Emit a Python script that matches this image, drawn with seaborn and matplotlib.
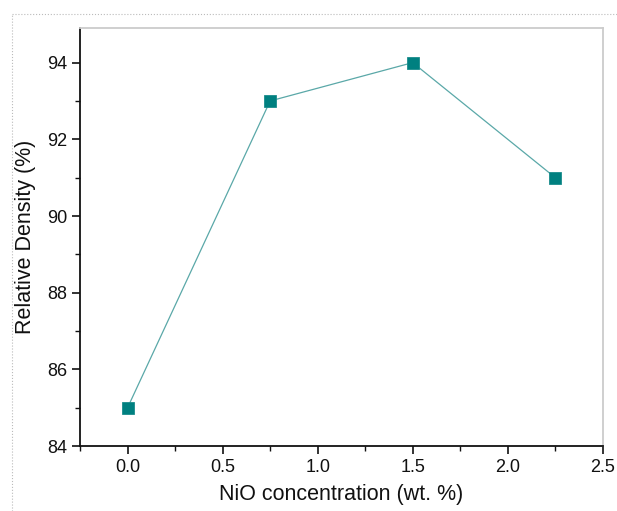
import matplotlib
matplotlib.use('Agg')
import pandas as pd
from matplotlib import pyplot as plt
from matplotlib.lines import Line2D
from matplotlib.ticker import MultipleLocator
import seaborn as sns

# values
nio = [0.0, 0.75, 1.5, 2.25]
density = [85, 93, 94, 91]
x_ticks = [0.0, 0.5, 1.0, 1.5, 2.0, 2.5]
y_ticks = [84, 86, 88, 90, 92, 94]

df = pd.DataFrame({'nio': nio, 'density': density})

sns.set_style('white')
plt.rcParams['font.family'] = ['Liberation Sans', 'DejaVu Sans']

fig = plt.figure(figsize=(6.17, 5.11), dpi=100)
ax = fig.add_axes([0.1297, 0.127, 0.8473, 0.818])

sns.lineplot(data=df, x='nio', y='density', ax=ax, color='#5aa8a8', linewidth=0.9,
             marker='s', markersize=8, markerfacecolor='#008080',
             markeredgecolor='#1a8c8c', markeredgewidth=0.6)

ax.set_xlim(-0.25, 2.5)
ax.set_ylim(84, 94.9)
ax.set_xticks(x_ticks)
ax.set_yticks(y_ticks)
ax.xaxis.set_minor_locator(MultipleLocator(0.25))
ax.yaxis.set_minor_locator(MultipleLocator(1))
ax.tick_params(axis='both', which='major', direction='out', length=6, width=1.2,
               labelsize=13, colors='#111111', bottom=True, left=True, pad=3)
ax.tick_params(axis='both', which='minor', direction='out', length=3.5, width=1,
               bottom=True, left=True, colors='#111111')
ax.tick_params(top=False, right=False, which='both')

for s in ['left', 'bottom']:
    ax.spines[s].set_color('#111111')
    ax.spines[s].set_linewidth(1.3)
for s in ['top', 'right']:
    ax.spines[s].set_color('#cccccc')
    ax.spines[s].set_linewidth(1.3)

ax.set_xlabel('NiO concentration (wt. %)', fontsize=15.5, color='#111111', labelpad=6)
ax.set_ylabel('Relative Density (%)', fontsize=15.5, color='#111111', labelpad=8)

# dotted page border
fig.add_artist(Line2D([12/617, 1], [1 - 14/511, 1 - 14/511], transform=fig.transFigure,
                      color='#bbbbbb', linestyle=':', linewidth=0.8))
fig.add_artist(Line2D([12/617, 12/617], [0, 1 - 14/511], transform=fig.transFigure,
                      color='#bbbbbb', linestyle=':', linewidth=0.8))

fig.savefig('out.png', dpi=100)
